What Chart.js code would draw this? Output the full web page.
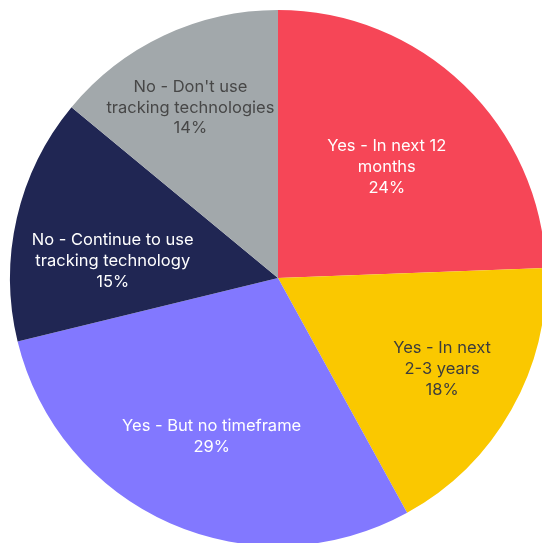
<!DOCTYPE html>
<html>
<head>
<meta charset="utf-8">
<script src="https://cdn.jsdelivr.net/npm/chart.js@4"></script>
<style>
html,body{margin:0;padding:0;background:#fff;overflow:hidden;width:542px;height:543px;}
#wrap{position:absolute;left:0;top:0;width:556px;height:556px;}
</style>
</head>
<body>
<div id="wrap"><canvas id="c" width="556" height="556"></canvas></div>
<script>
const categories = [
  ["Yes - In next 12", "months"],
  ["Yes - In next", "2-3 years"],
  ["Yes - But no timeframe"],
  ["No - Continue to use", "tracking technology"],
  ["No - Don't use", "tracking technologies"]
];
const values = [24.4, 17.6, 29.2, 14.8, 14.0];
const percentLabels = ["24%", "18%", "29%", "15%", "14%"];

const colors = ["#F64657", "#FAC800", "#8278FF", "#202653", "#A2A8AB"];
const textColors = ["#FFFFFF", "#3C3C3C", "#FFFFFF", "#FFFFFF", "#474747"];
// label placement tweaks: [angle offset (deg), radius fraction]
const labelPlace = [[0.5, 0.58], [-0.5, 0.70], [-1, 0.64], [-7, 0.62], [-2, 0.715]];

const labelPlugin = {
  id: 'sliceLabels',
  afterDatasetsDraw(chart) {
    const ctx = chart.ctx;
    const meta = chart.getDatasetMeta(0);
    ctx.save();
    ctx.font = '400 16.5px Inter, "Noto Sans", sans-serif';
    ctx.textAlign = 'center';
    ctx.textBaseline = 'middle';
    const lh = 20.8;
    meta.data.forEach((arc, i) => {
      const p = arc.getProps(['x','y','startAngle','endAngle','outerRadius'], true);
      const a = (p.startAngle + p.endAngle) / 2 + labelPlace[i][0] * Math.PI / 180;
      const r = p.outerRadius * labelPlace[i][1];
      const cx = p.x + Math.cos(a) * r;
      const cy = p.y + Math.sin(a) * r;
      const lines = categories[i].concat([percentLabels[i]]);
      const y0 = cy - (lines.length - 1) * lh / 2;
      ctx.fillStyle = textColors[i];
      lines.forEach((t, k) => ctx.fillText(t, cx, y0 + k * lh));
    });
    ctx.restore();
  }
};

new Chart(document.getElementById('c'), {
  type: 'pie',
  data: {
    labels: categories.map(c => c.join(' ')),
    datasets: [{
      data: values,
      backgroundColor: colors,
      borderWidth: 0
    }]
  },
  options: {
    responsive: false,
    animation: false,
    layout: { padding: 10 },
    plugins: {
      legend: { display: false },
      tooltip: { enabled: false }
    }
  },
  plugins: [labelPlugin]
});
</script>
</body>
</html>
